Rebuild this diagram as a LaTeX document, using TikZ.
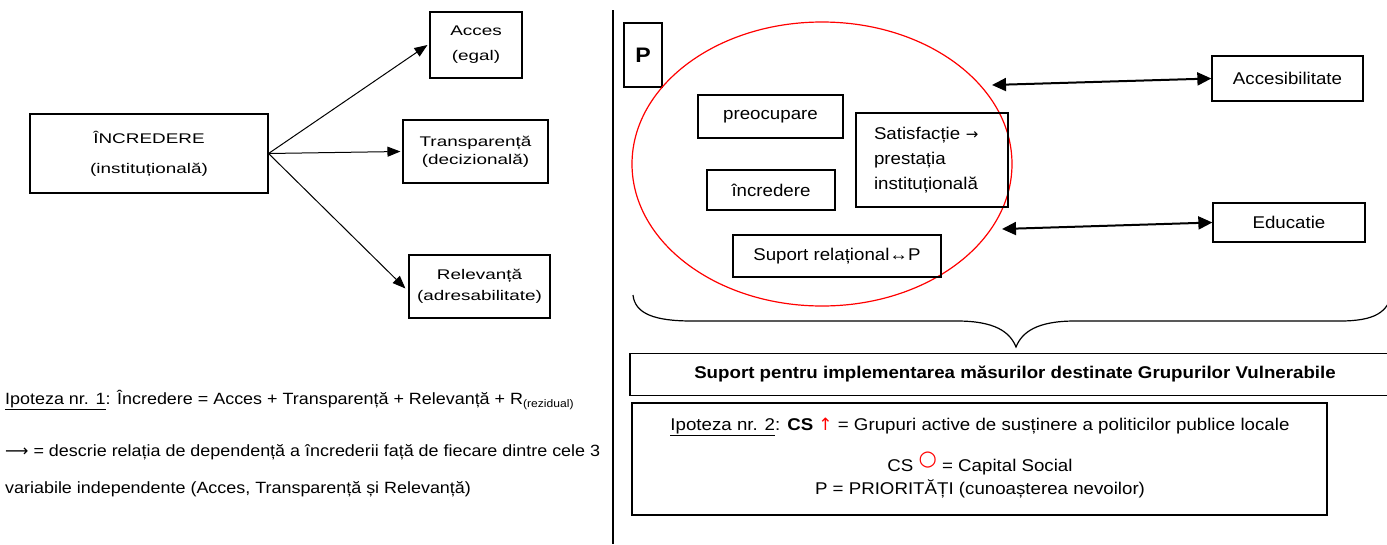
\documentclass[tikz,border=0pt]{standalone}
\usepackage{fontspec}
\setmainfont{Liberation Sans}[FakeStretch=1.1]
\newfontfamily\pixfont{Liberation Sans}[FakeStretch=1.35]
\newfontfamily\dejavu{DejaVu Sans}
\usetikzlibrary{arrows.meta,shapes.geometric}
\begin{document}
\begin{tikzpicture}[x=1pt,y=-1pt,
  lbox/.style={draw, line width=1.1pt, inner sep=0pt, align=center, font=\pixfont\fontsize{14}{16}\selectfont},
  rbox/.style={draw, line width=1.3pt, inner sep=0pt, align=center, font=\fontsize{17}{20}\selectfont},
  larrow/.style={-{Triangle[length=13pt,width=10pt]}, line width=1pt},
  darrow/.style={{Triangle[length=14pt,width=13pt]}-{Triangle[length=14pt,width=13pt]}, line width=2pt},
  txt/.style={anchor=base west, inner sep=0pt, font=\fontsize{16.3}{19}\selectfont},
  ctxt/.style={anchor=base, inner sep=0pt, font=\fontsize{17}{20}\selectfont}]
\useasboundingbox (0,0) rectangle (1387,544);
% left diagram
\node[lbox, minimum width=238pt, minimum height=79pt] (incr) at (149,153.5) {ÎNCREDERE\\[14pt](instituțională)};
\node[lbox, minimum width=92pt, minimum height=66pt] (acces) at (476,45) {Acces\\[9pt](egal)};
\node[lbox, minimum width=145pt, minimum height=63pt] (transp) at (475.5,151.5) {Transparență\\[2pt](decizională)};
\node[lbox, minimum width=141pt, minimum height=63pt] (relev) at (479.5,286.5) {Relevanță\\[5pt](adresabilitate)};
\draw[larrow] (incr.east) -- ([xshift=-2pt]acces.west);
\draw[larrow] (incr.east) -- ([xshift=-2pt]transp.west);
\draw[larrow] (incr.east) -- ([xshift=-3pt,yshift=-2pt]relev.west);
\node[txt] (ip1) at (5,404) {\underline{Ipoteza nr. 1}: Încredere = Acces + Transparență + Relevanță + R\raisebox{-3pt}{\fontsize{11}{10}\selectfont(rezidual)}};
\node[txt] (desc1) at (5,456) {{\dejavu ⟶} = descrie relația de dependență a încrederii față de fiecare dintre cele 3};
\node[txt] (desc2) at (5,493) {variabile independente (Acces, Transparență și Relevanță)};
% separator
\coordinate (sepT) at (613,10);
\coordinate (sepB) at (613,544);
\draw[line width=1.5pt] (sepT) -- (sepB);
% right diagram
\node[draw, line width=1.3pt, minimum width=38pt, minimum height=64pt, inner sep=0pt, font=\bfseries\fontsize{21}{22}\selectfont] (P) at (643,55) {P};
\node[draw=red, line width=1.2pt, ellipse, minimum width=380pt, minimum height=284pt, inner sep=0pt] (circ) at (822,164) {};
\node[rbox, minimum width=145pt, minimum height=43pt] (preoc) at (770.5,116.5) {preocupare};
\node[rbox, minimum width=152pt, minimum height=94pt, align=left, text width=116pt, inner xsep=18pt, font=\fontsize{17}{25}\selectfont] (satis) at (932,160) {Satisfacție {\dejavu\fontsize{15}{15}\selectfont →}\\prestația\\instituțională};
\node[rbox, minimum width=128pt, minimum height=40pt] (incr2) at (771,190) {încredere};
\node[rbox, minimum width=208pt, minimum height=42pt] (suprel) at (837,256) {Suport relațional↔P};
\node[rbox, minimum width=151pt, minimum height=45pt] (accb) at (1287.5,78.5) {Accesibilitate};
\node[rbox, minimum width=152pt, minimum height=39pt] (educ) at (1289,222.5) {Educatie};
\coordinate (e1) at (992,85);
\coordinate (e2) at (1002,229);
\draw[darrow] (e1) -- (accb.west);
\draw[darrow] (e2) -- (educ.west);
% brace
\coordinate (bl) at (633,295);
\coordinate (bt) at (1016,347);
\coordinate (br) at (1392,293);
\draw[line width=1.2pt] (bl) .. controls (635,314) and (655,321) .. (692,321) -- (957,321)
  .. controls (995,321) and (1010,332) .. (bt)
  .. controls (1022,332) and (1037,321) .. (1075,321) -- (1340,321)
  .. controls (1375,321) and (1388,312) .. (br);
\node[draw, line width=1.8pt, minimum width=770pt, minimum height=42pt, inner sep=0pt, font=\bfseries\fontsize{17}{20}\selectfont] (supimp) at (1015,374.5) {Suport pentru implementarea măsurilor destinate Grupurilor Vulnerabile};
\node[draw, line width=1.6pt, minimum width=695pt, minimum height=112pt, inner sep=0pt] (ip2box) at (979.5,459) {};
\node[ctxt] (ip2a) at (980,430) {\underline{Ipoteza nr. 2}: \textbf{CS} \textcolor{red}{\dejavu ↑} = Grupuri active de susținere a politicilor publice locale};
\node[ctxt] (ip2b) at (980,471) {CS \raisebox{6pt}{\textcolor{red}{\dejavu\fontsize{21}{21}\selectfont ○}} = Capital Social};
\node[ctxt] (ip2c) at (980,494) {P = PRIORITĂȚI (cunoașterea nevoilor)};
\end{tikzpicture}
\end{document}
